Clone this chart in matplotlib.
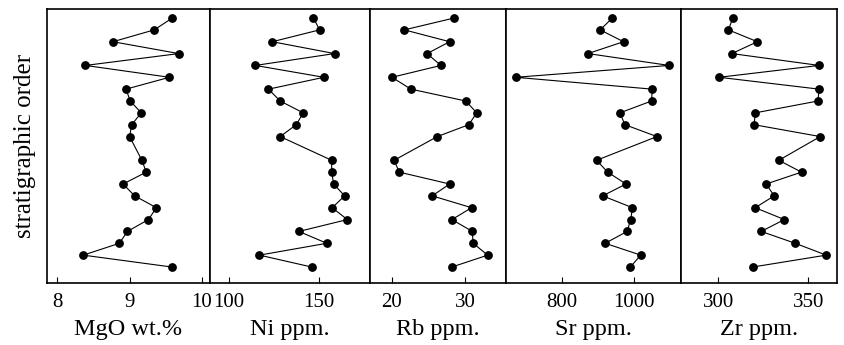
import matplotlib
matplotlib.use("Agg")
import matplotlib.pyplot as plt

# stratigraphic position of each sample (bottom = 1); position 11 has no sample
order = [22, 21, 20, 19, 18, 17, 16, 15, 14, 13, 12, 10, 9, 8, 7, 6, 5, 4, 3, 2, 1]

mgo = [9.59, 9.34, 8.77, 9.68, 8.39, 9.55, 8.95, 9.01, 9.16, 9.03, 9.00,
       9.17, 9.23, 8.91, 9.07, 9.37, 9.26, 8.97, 8.86, 8.36, 9.58]
ni = [146.9, 150.3, 124.0, 158.6, 114.6, 152.7, 121.9, 128.4, 141.2, 137.3, 128.4,
      157.0, 157.0, 158.1, 164.2, 157.3, 165.7, 138.8, 154.3, 116.9, 145.8]
rb = [28.5, 21.7, 27.9, 24.8, 26.7, 20.0, 22.6, 30.1, 31.6, 30.5, 26.2,
      20.3, 21.0, 27.9, 25.5, 30.9, 28.2, 31.0, 31.1, 33.1, 28.2]
sr = [940, 906, 971, 872, 1098, 671, 1051, 1049, 961, 975, 1064,
      896, 927, 978, 913, 996, 991, 981, 920, 1019, 990]
zr = [308.2, 305.7, 321.8, 307.6, 356.1, 300.6, 356.1, 355.4, 320.6, 320.0, 356.7,
      333.7, 346.3, 326.7, 331.1, 320.6, 336.8, 323.9, 342.8, 360.0, 319.3]

labels = ["MgO wt.%", "Ni ppm.", "Rb ppm.", "Sr ppm.", "Zr ppm."]
xticks = [[8, 9, 10], [100, 150], [20, 30], [800, 1000], [300, 350]]
xlims = [(7.86, 10.11), (89.4, 178.3), (17.0, 35.6), (644, 1131), (279.4, 366.0)]
widths = [163, 160, 136, 175, 156]

plt.rcParams["font.family"] = ["Liberation Serif", "DejaVu Serif"]

fig = plt.figure(figsize=(8.44, 3.45), dpi=100)
gs = fig.add_gridspec(1, 5, width_ratios=widths, wspace=0,
                      left=47 / 844, right=837 / 844, top=1 - 9 / 345, bottom=1 - 283 / 345)

for i, vals in enumerate([mgo, ni, rb, sr, zr]):
    ax = fig.add_subplot(gs[0, i])
    ax.plot(vals, order, color="black", lw=0.8, marker="o", ms=5.3,
            markerfacecolor="black", markeredgecolor="black")
    ax.set_xlim(*xlims[i])
    ax.set_ylim(-0.35, 22.76)
    ax.set_xticks(xticks[i])
    ax.set_yticks([])
    ax.tick_params(axis="x", direction="in", length=4, width=0.8, labelsize=15, pad=7)
    ax.set_xlabel(labels[i], fontsize=17.5, labelpad=5)
    for sp in ax.spines.values():
        sp.set_linewidth(1.2)
    if i == 0:
        ax.set_ylabel("stratigraphic order", fontsize=18, labelpad=8)

fig.savefig("out.png", dpi=100)
